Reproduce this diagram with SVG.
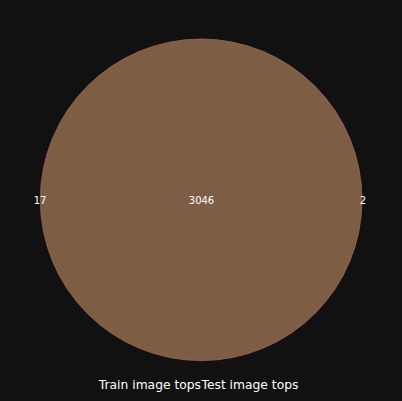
<svg xmlns="http://www.w3.org/2000/svg" width="402" height="401" viewBox="0 0 402 401">
<style>
.num{font-family:"DejaVu Sans",sans-serif;font-size:10px;fill:#ffffff;text-anchor:middle}
.lab{font-family:"DejaVu Sans",sans-serif;font-size:12.3px;fill:#ffffff}
</style>
<rect width="402" height="401" fill="#111111"/>
<g id="venn">
<circle cx="201.2" cy="199.8" r="161" fill="#7d5e45"/>
<circle cx="201" cy="199.8" r="160.8" fill="none" stroke="#b0505a" stroke-width="0.8" stroke-opacity="0.8"/>
<circle cx="201.5" cy="199.8" r="160.6" fill="none" stroke="#6a7a45" stroke-width="0.6" stroke-opacity="0.6"/>
</g>
<g id="labels">
<text class="num" x="40" y="204">17</text>
<text class="num" x="201.5" y="204">3046</text>
<text class="num" x="363" y="204">2</text>
<text class="lab" x="201" y="389" text-anchor="end">Train image tops</text>
<text class="lab" x="201.5" y="389">Test image tops</text>
</g>
</svg>
